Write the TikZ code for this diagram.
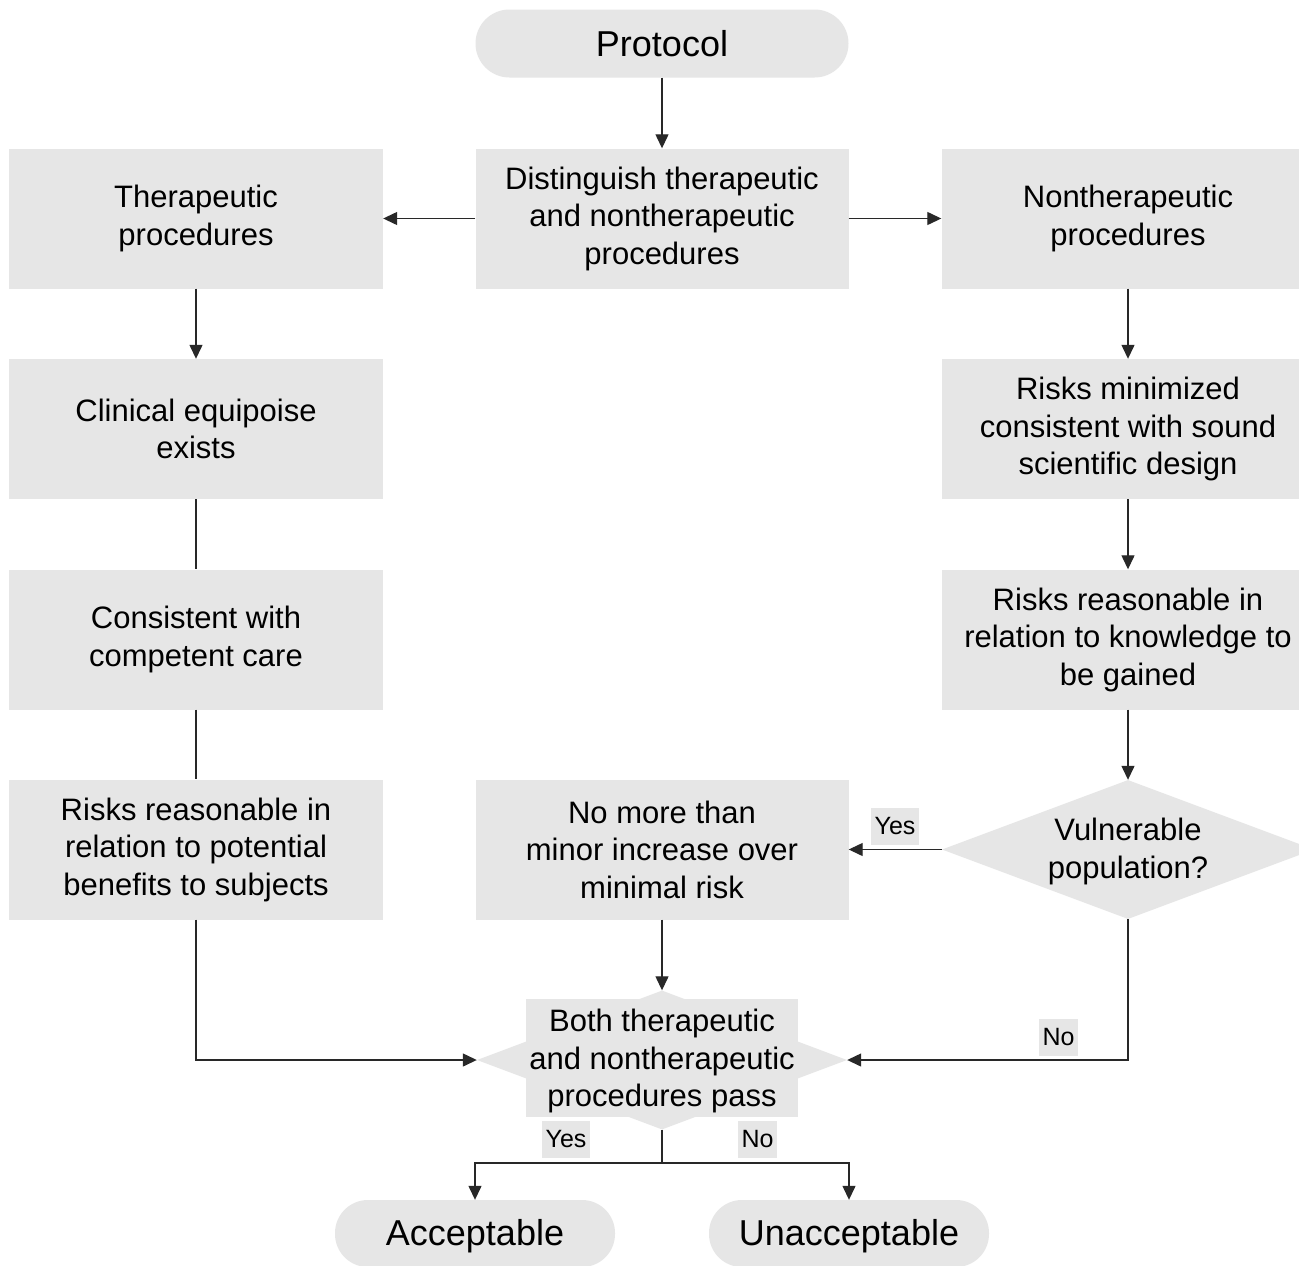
\documentclass[tikz,border=0pt]{standalone}
\usepackage{fontspec}
\setmainfont{Liberation Sans}
\usetikzlibrary{shapes.geometric,arrows.meta}
\definecolor{boxgray}{RGB}{230,230,230}
\definecolor{linegray}{RGB}{40,40,40}
\begin{document}
\begin{tikzpicture}[x=1pt,y=-1pt,
  box/.style={fill=boxgray, draw=none, minimum width=373pt, minimum height=140pt, align=center, inner sep=0pt, font=\fontsize{31}{37.5}\selectfont},
  pill/.style={fill=boxgray, draw=none, rounded corners=34pt, minimum width=373pt, minimum height=68pt, inner sep=0pt, font=\fontsize{36}{43}\selectfont},
  conn/.style={draw=linegray, line width=1.3pt},
  arr/.style={conn, -{Triangle[length=14pt,width=13pt]}},
  lbl/.style={fill=boxgray, font=\fontsize{25}{30}\selectfont, inner xsep=3.5pt, inner ysep=0pt, minimum height=37pt},
]
\path[use as bounding box] (0,0) rectangle (1299,1266);
\clip (0,0) rectangle (1299,1266);
\fill[white] (0,0) rectangle (1299,1266);

\node[pill] (protocol) at (662,43.5) {Protocol};
\node[box] (dist) at (662,218.5) {Distinguish therapeutic\\and nontherapeutic\\procedures};
\node[box, minimum width=374pt] (ther) at (196,218.5) {Therapeutic\\procedures};
\node[box] (nonther) at (1128,218.5) {Nontherapeutic\\procedures};
\node[box, minimum width=374pt] (clin) at (196,429) {Clinical equipoise\\exists};
\node[box, minimum width=374pt] (cons) at (196,639.5) {Consistent with\\competent care};
\node[box, minimum width=374pt] (riskben) at (196,849.5) {Risks reasonable in\\relation to potential\\benefits to subjects};
\node[box] (riskmin) at (1128,429) {Risks minimized\\consistent with sound\\scientific design};
\node[box] (riskknow) at (1128,639.5) {Risks reasonable in\\relation to knowledge to\\be gained};
\node[diamond, fill=boxgray, aspect=2.68, minimum width=372pt, minimum height=139pt, inner sep=0pt] (vuln) at (1128,849.5) {};
\node[align=center, inner sep=0pt, font=\fontsize{31}{37.5}\selectfont] (vulntxt) at (1128,851.5) {Vulnerable\\population?};
\node[box] (minor) at (662,849.5) {No more than\\minor increase over\\minimal risk};
\node[diamond, fill=boxgray, minimum width=370pt, minimum height=139pt, inner sep=0pt] (both) at (662,1060) {};
\node[box, minimum width=272pt, minimum height=118pt] (bothbox) at (662,1058) {};
\node[align=center, inner sep=0pt, font=\fontsize{31}{37.5}\selectfont] (bothtxt) at (662,1061) {Both therapeutic\\and nontherapeutic\\procedures pass};
\node[pill, minimum width=280pt, minimum height=67pt, rounded corners=33pt, text height=32pt, text depth=7.5pt] (acc) at (475,1233.5) {Acceptable};
\node[pill, minimum width=280pt, minimum height=67pt, rounded corners=33pt, text height=32pt, text depth=7.5pt] (unacc) at (849,1233.5) {Unacceptable};

\coordinate (split) at (662,1163);

\draw[arr] (protocol) -- (dist);
\draw[arr] (dist) -- (ther);
\draw[arr] (dist) -- (nonther);
\draw[arr] (ther) -- (clin);
\draw[conn] (clin) -- (cons);
\draw[conn] (cons) -- (riskben);
\draw[arr] (riskben.south) |- (both.west);
\draw[arr] (nonther) -- (riskmin);
\draw[arr] (riskmin) -- (riskknow);
\draw[arr] (riskknow) -- (vuln);
\draw[arr] (vuln.west) -- (minor.east);
\draw[arr] (vuln.south) |- (both.east);
\draw[arr] (minor) -- (both);
\draw[conn] (both.south) -- (split);
\draw[arr] (split) -| (acc.north);
\draw[arr] (split) -| (unacc.north);

\node[lbl] (yes1) at (895,826) {Yes};
\node[lbl] (no1) at (1058.5,1037.5) {No};
\node[lbl] (yes2) at (566,1139.5) {Yes};
\node[lbl] (no2) at (757.5,1139.5) {No};
\end{tikzpicture}
\end{document}
